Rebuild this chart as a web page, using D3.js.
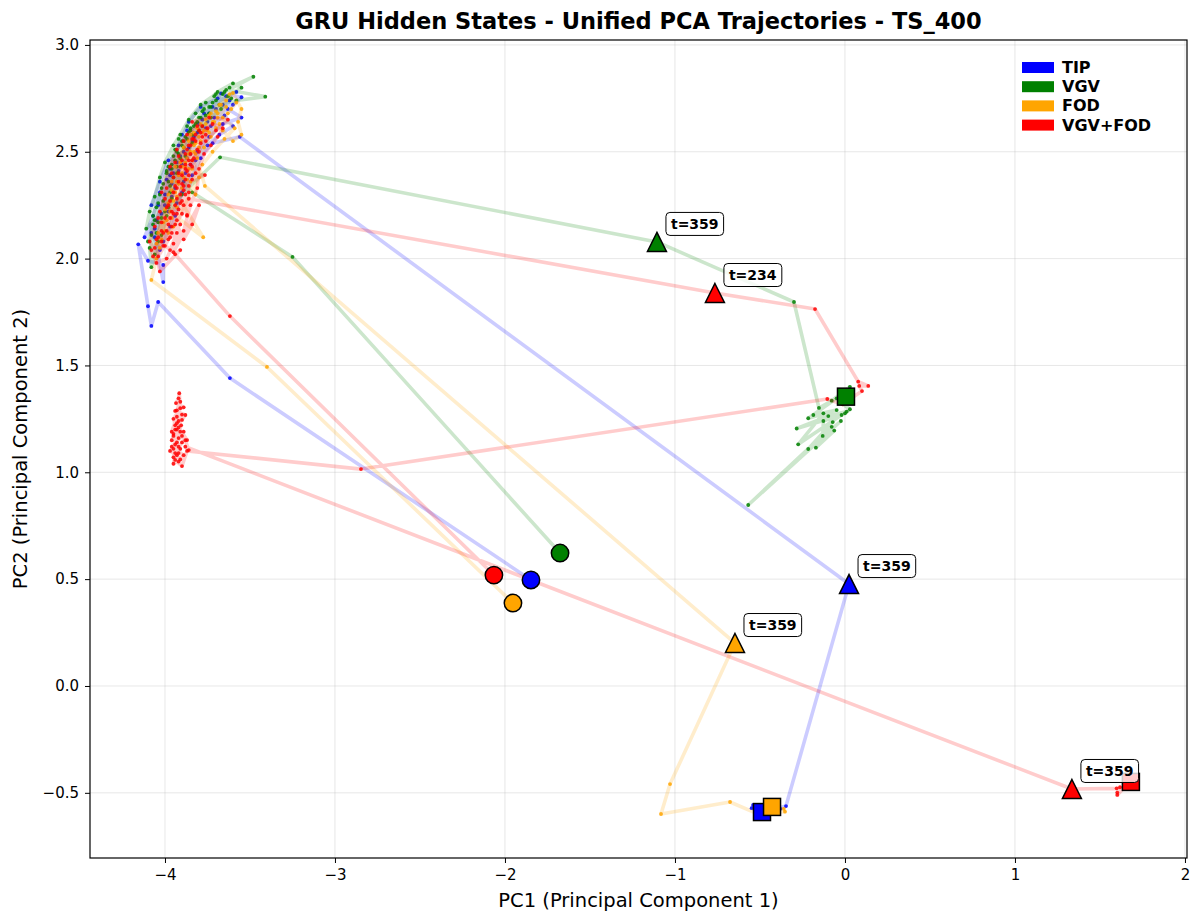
<!DOCTYPE html>
<html>
<head>
<meta charset="utf-8">
<script src="https://cdn.jsdelivr.net/npm/d3@7"></script>
<style>
  body { margin: 0; background: #fff; }
  text { font-family: "DejaVu Sans", sans-serif; }
</style>
</head>
<body>
<svg id="chart" width="1193" height="916"></svg>
<script>
// Conditions and their colours
const seriesNames = ["TIP", "VGV", "FOD", "VGV+FOD"];
const seriesColors = ["#0000ff", "#008000", "#ffa500", "#ff0000"];

// Axis ticks
const xTicks = [-4, -3, -2, -1, 0, 1, 2];
const yTicks = [-0.5, 0.0, 0.5, 1.0, 1.5, 2.0, 2.5, 3.0];

// PCA trajectories, [PC1, PC2] per time step (first point = start, last point = end)
const tipPath = [
  [-1.847, 0.496], [-3.618, 1.441], [-4.04, 1.797], [-4.08, 1.685], [-4.10, 1.777],
  [-4.157, 2.067], [-4.10, 1.99], [-4.01, 1.97], [-4.01, 1.89], [-4.06, 2.10], [-4.02, 2.21],
  [-3.96, 2.29], [-3.99, 2.37], [-3.93, 2.45], [-3.86, 2.52], [-3.90, 2.58], [-3.80, 2.63],
  [-3.74, 2.68], [-3.67, 2.773], [-3.55, 2.755], [-3.60, 2.72], [-3.70, 2.70], [-3.78, 2.65],
  [-3.84, 2.55], [-3.91, 2.48], [-3.95, 2.40], [-4.00, 2.30], [-4.05, 2.18], [-4.08, 2.12],
  [-4.03, 2.04], [-3.97, 2.15], [-3.93, 2.26], [-3.89, 2.36], [-3.85, 2.44], [-3.81, 2.50],
  [-3.87, 2.60], [-3.76, 2.61], [-3.71, 2.66], [-3.63, 2.70], [-3.55, 2.66], [-3.66, 2.63],
  [-3.74, 2.57], [-3.82, 2.46], [-3.88, 2.40], [-3.94, 2.33], [-3.98, 2.22], [-4.04, 2.25],
  [-3.97, 2.42], [-3.92, 2.53], [-3.86, 2.64], [-3.79, 2.71], [-3.69, 2.75], [-3.62, 2.74],
  [-4.12, 2.10], [-4.07, 2.20], [-4.03, 2.31], [-3.97, 2.39], [-3.90, 2.44], [-3.87, 2.47],
  [-3.83, 2.57], [-3.77, 2.68], [-3.72, 2.71], [-3.64, 2.76], [-3.58, 2.78], [-3.66, 2.72],
  [-3.75, 2.64], [-3.81, 2.59], [-3.85, 2.49], [-3.92, 2.41], [-3.96, 2.35], [-4.00, 2.25],
  [-4.06, 2.14], [-4.01, 2.08], [-3.94, 2.20], [-3.90, 2.31], [-3.84, 2.39], [-3.79, 2.47],
  [-3.75, 2.53], [-3.68, 2.58], [-3.60, 2.62], [-3.65, 2.67], [-3.73, 2.62], [-3.89, 2.50],
  [-3.98, 2.46], [-4.03, 2.36], [-4.08, 2.25],
  [-3.72, 2.54], [-3.56, 2.57],
  [0.024, 0.477],
  [-0.347, -0.562], [-0.41, -0.575], [-0.50, -0.585], [-0.549, -0.572], [-0.54, -0.557],
  [-0.45, -0.56], [-0.38, -0.575], [-0.47, -0.60], [-0.43, -0.55], [-0.52, -0.60],
  [-0.46, -0.575], [-0.488, -0.59]
];

const vgvPath = [
  [-1.676, 0.622], [-3.25, 2.008],
  [-3.84, 2.31], [-3.96, 2.42], [-3.89, 2.55], [-3.82, 2.63], [-3.74, 2.71], [-3.65, 2.78],
  [-3.48, 2.851], [-3.62, 2.80], [-3.70, 2.74], [-3.79, 2.66], [-3.86, 2.59], [-3.93, 2.50],
  [-3.99, 2.40], [-4.03, 2.30], [-4.07, 2.20], [-4.05, 2.12], [-4.09, 2.05], [-4.08, 1.96],
  [-4.04, 2.08], [-4.00, 2.22], [-3.97, 2.34], [-3.94, 2.46], [-3.90, 2.53], [-3.85, 2.61],
  [-3.78, 2.69], [-3.71, 2.76], [-3.64, 2.79], [-3.41, 2.758], [-3.58, 2.74], [-3.68, 2.72],
  [-3.76, 2.67], [-3.81, 2.64], [-3.88, 2.57], [-3.92, 2.49], [-3.96, 2.44], [-3.98, 2.36],
  [-4.01, 2.27], [-4.04, 2.17], [-3.98, 2.24], [-3.95, 2.38], [-3.91, 2.47], [-3.87, 2.56],
  [-3.83, 2.62], [-3.77, 2.70], [-3.72, 2.73], [-3.66, 2.77], [-3.74, 2.68], [-3.80, 2.60],
  [-3.84, 2.58], [-3.89, 2.52], [-3.93, 2.43], [-3.97, 2.31], [-4.02, 2.19], [-3.90, 2.30],
  [-4.10, 2.08], [-4.07, 2.16], [-4.05, 2.24], [-4.02, 2.33], [-3.99, 2.41], [-3.95, 2.48],
  [-3.92, 2.56], [-3.87, 2.62], [-3.82, 2.68], [-3.76, 2.73], [-3.69, 2.78], [-3.60, 2.82],
  [-3.55, 2.80], [-3.63, 2.76], [-3.73, 2.71], [-3.80, 2.66], [-3.85, 2.60], [-3.90, 2.55],
  [-3.94, 2.51], [-3.98, 2.43], [-4.01, 2.35], [-4.04, 2.26], [-4.06, 2.18], [-4.08, 2.11],
  [-4.06, 2.02], [-4.02, 2.11], [-3.99, 2.20], [-3.96, 2.28], [-3.93, 2.40], [-3.88, 2.48],
  [-3.84, 2.54], [-3.78, 2.62], [-3.73, 2.66], [-3.67, 2.70], [-3.61, 2.75], [-3.70, 2.77],
  [-3.79, 2.72], [-3.86, 2.65], [-3.91, 2.58], [-3.95, 2.53], [-4.00, 2.45], [-4.03, 2.38],
  [-4.06, 2.29], [-4.09, 2.22], [-4.11, 2.14],
  [-3.676, 2.474],
  [-1.106, 2.078],
  [-0.30, 1.797], [-0.153, 1.301], [-0.078, 1.335], [0.029, 1.40], [-0.049, 1.346],
  [-0.216, 1.253], [-0.049, 1.291], [-0.186, 1.268], [-0.02, 1.268], [-0.284, 1.205],
  [-0.098, 1.263], [0.01, 1.284], [-0.275, 1.131], [-0.127, 1.276], [-0.072, 1.235],
  [-0.216, 1.109], [-0.024, 1.24], [-0.569, 0.847], [-0.078, 1.213], [-0.171, 1.115],
  [-0.063, 1.195], [-0.131, 1.17], [-0.127, 1.24], [0.0, 1.276], [0.029, 1.295],
  [-0.03, 1.33], [0.006, 1.354]
];

const fodPath = [
  [-1.953, 0.388], [-3.40, 1.493],
  [-4.08, 1.90], [-4.05, 2.00], [-4.02, 2.09], [-3.99, 2.18], [-3.95, 2.27], [-3.92, 2.35],
  [-3.88, 2.43], [-3.85, 2.50], [-3.80, 2.57], [-3.76, 2.63], [-3.70, 2.69], [-3.64, 2.74],
  [-3.60, 2.775], [-3.55, 2.70], [-3.57, 2.64], [-3.55, 2.58], [-3.60, 2.55], [-3.66, 2.60],
  [-3.72, 2.64], [-3.78, 2.59], [-3.83, 2.53], [-3.87, 2.47], [-3.90, 2.40], [-3.94, 2.31],
  [-3.775, 2.10], [-3.97, 2.22], [-4.00, 2.13], [-3.96, 2.36], [-3.91, 2.45], [-3.86, 2.55],
  [-3.81, 2.61], [-3.74, 2.67], [-3.67, 2.72], [-3.62, 2.77], [-3.69, 2.66], [-3.75, 2.60],
  [-3.80, 2.52], [-3.84, 2.46], [-3.89, 2.38], [-3.93, 2.29], [-3.98, 2.26], [-3.86, 2.42],
  [-4.03, 2.05], [-3.98, 2.12], [-3.96, 2.19], [-3.93, 2.24], [-3.90, 2.33], [-3.87, 2.37],
  [-3.84, 2.42], [-3.81, 2.47], [-3.77, 2.52], [-3.73, 2.57], [-3.70, 2.61], [-3.66, 2.66],
  [-3.61, 2.70], [-3.58, 2.73], [-3.63, 2.68], [-3.68, 2.63], [-3.74, 2.59], [-3.79, 2.55],
  [-3.83, 2.50], [-3.88, 2.45], [-3.92, 2.39], [-3.96, 2.32], [-4.00, 2.23], [-4.04, 2.12],
  [-3.98, 2.30], [-3.85, 2.36], [-3.78, 2.44], [-3.72, 2.50], [-3.65, 2.56], [-3.59, 2.61],
  [-3.69, 2.68], [-3.76, 2.65], [-3.83, 2.59], [-3.89, 2.52], [-3.94, 2.43], [-3.82, 2.30],
  [-3.85, 2.58], [-3.79, 2.63], [-3.73, 2.68], [-3.68, 2.72], [-3.64, 2.71], [-3.71, 2.64],
  [-3.77, 2.60], [-3.82, 2.54], [-3.86, 2.49], [-3.90, 2.43], [-3.93, 2.36], [-3.97, 2.27],
  [-4.01, 2.17], [-4.05, 2.07], [-3.95, 2.15], [-3.80, 2.38],
  [-3.82, 2.49], [-3.765, 2.34],
  [-0.647, 0.201],
  [-1.029, -0.459], [-1.082, -0.599], [-0.676, -0.543], [-0.52, -0.596], [-0.353, -0.588],
  [-0.40, -0.56], [-0.48, -0.56], [-0.36, -0.575], [-0.45, -0.58], [-0.429, -0.566]
];

const comboPath = [
  [-2.065, 0.519], [-3.618, 1.731],
  [-3.94, 2.02], [-3.91, 2.04], [-4.03, 1.94], [-4.06, 2.05], [-4.02, 2.13], [-3.97, 2.10],
  [-3.93, 2.18], [-3.99, 2.24], [-3.95, 2.31], [-3.90, 2.27], [-3.87, 2.20], [-3.92, 2.36],
  [-3.88, 2.42], [-3.94, 2.45], [-3.85, 2.49], [-3.89, 2.55], [-3.82, 2.58], [-3.78, 2.62],
  [-3.84, 2.64], [-3.74, 2.66], [-3.63, 2.65], [-3.70, 2.60], [-3.76, 2.55], [-3.81, 2.51],
  [-3.86, 2.46], [-3.90, 2.39], [-3.765, 2.391], [-3.93, 2.33], [-3.97, 2.27], [-4.00, 2.19],
  [-4.04, 2.10], [-4.07, 2.01], [-4.01, 2.06], [-3.96, 2.15], [-3.92, 2.23], [-3.88, 2.30],
  [-3.84, 2.37], [-3.91, 2.43], [-3.87, 2.51], [-3.83, 2.56], [-3.79, 2.54], [-3.85, 2.44],
  [-3.89, 2.34], [-3.94, 2.25], [-3.98, 2.16], [-4.02, 2.08], [-3.97, 2.04], [-3.93, 2.12],
  [-4.08, 2.04], [-4.05, 1.98], [-3.99, 2.00], [-3.95, 2.07], [-3.89, 2.13], [-3.85, 2.25],
  [-3.81, 2.33], [-3.80, 2.42], [-3.77, 2.49], [-3.73, 2.53], [-3.69, 2.57], [-3.66, 2.61],
  [-3.72, 2.63], [-3.79, 2.59], [-3.86, 2.53], [-3.92, 2.48], [-3.96, 2.40], [-3.99, 2.33],
  [-4.03, 2.22], [-4.06, 2.15], [-4.09, 2.08], [-4.04, 2.01], [-3.98, 2.09], [-3.94, 2.16],
  [-3.90, 2.21], [-3.86, 2.34], [-3.82, 2.40], [-3.83, 2.47], [-3.90, 2.46], [-3.95, 2.38],
  [-4.00, 2.28], [-4.04, 2.19], [-4.01, 2.12], [-3.96, 2.22], [-3.91, 2.30], [-3.88, 2.37],
  [-3.84, 2.43], [-3.80, 2.50], [-3.76, 2.58], [-3.81, 2.62], [-3.87, 2.58], [-3.93, 2.51],
  [-3.97, 2.43], [-4.02, 2.31], [-3.89, 2.09], [-3.84, 2.16], [-3.80, 2.25],
  [-3.95, 2.03], [-4.00, 2.06], [-3.96, 2.12], [-3.91, 2.16], [-3.95, 2.21], [-3.93, 2.28],
  [-3.89, 2.25], [-3.86, 2.31], [-3.90, 2.35], [-3.87, 2.41], [-3.84, 2.46], [-3.88, 2.49],
  [-3.85, 2.53], [-3.82, 2.55], [-3.78, 2.57], [-3.75, 2.61], [-3.80, 2.60], [-3.84, 2.56],
  [-3.88, 2.44], [-3.92, 2.40], [-3.94, 2.34], [-3.98, 2.25], [-4.02, 2.17], [-4.05, 2.09],
  [-3.99, 2.13], [-3.97, 2.19], [-3.93, 2.21], [-3.91, 2.26], [-3.89, 2.32], [-3.86, 2.39],
  [-3.87, 2.204], [-3.86, 2.28],
  [-0.765, 1.839],
  [-0.176, 1.764], [0.078, 1.424], [0.137, 1.404], [0.084, 1.404], [0.10, 1.38],
  [-0.014, 1.318], [-0.104, 1.343], [-2.847, 1.015],
  [-3.87, 1.10], [-3.90, 1.029], [-3.94, 1.058], [-3.92, 1.12], [-3.95, 1.18], [-3.93, 1.23],
  [-3.90, 1.245], [-3.88, 1.268], [-3.94, 1.287], [-3.89, 1.304], [-3.935, 1.324], [-3.92, 1.346],
  [-3.916, 1.370], [-3.91, 1.30], [-3.95, 1.25], [-3.93, 1.20], [-3.96, 1.15], [-3.92, 1.16],
  [-3.89, 1.19], [-3.94, 1.13], [-3.97, 1.10], [-3.93, 1.08], [-3.91, 1.06], [-3.95, 1.04],
  [-3.94, 1.09], [-3.90, 1.14], [-3.87, 1.151], [-3.92, 1.21], [-3.96, 1.19], [-3.93, 1.26],
  [-3.905, 1.22], [-3.95, 1.11], [-3.92, 1.09],
  [-3.91, 1.11], [-3.93, 1.14], [-3.95, 1.17], [-3.91, 1.19], [-3.94, 1.22], [-3.92, 1.24],
  [-3.90, 1.27], [-3.93, 1.29], [-3.91, 1.33], [-3.95, 1.07], [-3.92, 1.05], [-3.89, 1.08],
  [-3.96, 1.12], [-3.90, 1.17], [-3.94, 1.20], [-3.88, 1.15],
  [-3.86, 1.104], [-3.88, 1.12],
  [1.335, -0.482],
  [1.598, -0.479], [1.653, -0.474], [1.602, -0.499], [1.618, -0.474], [1.602, -0.51],
  [1.66, -0.46], [1.682, -0.449]
];

const paths = [tipPath, vgvPath, fodPath, comboPath];

// Annotated time steps along the trajectories
const eventSeries = ["TIP", "VGV", "FOD", "VGV+FOD", "VGV+FOD"];
const eventSteps  = [359, 359, 359, 234, 359];
const eventPoints = [[0.024, 0.477], [-1.106, 2.078], [-0.647, 0.201], [-0.765, 1.839], [1.335, -0.482]];

// ---------------------------------------------------------------------------
const svg = d3.select("#chart");
const W = 1193, H = 916;
const plot = { left: 90, right: 1187, top: 40, bottom: 858 };

const x = d3.scaleLinear().domain([-4.441, 2.012]).range([plot.left, plot.right]);
const y = d3.scaleLinear().domain([-0.805, 3.023]).range([plot.bottom, plot.top]);

const minus = s => String(s).replace("-", "\u2212");

svg.append("rect").attr("width", W).attr("height", H).attr("fill", "#fff");

// grid
const grid = svg.append("g");
grid.selectAll("line.gx").data(xTicks).join("line")
  .attr("x1", d => x(d)).attr("x2", d => x(d))
  .attr("y1", plot.top).attr("y2", plot.bottom)
  .attr("stroke", "#b0b0b0").attr("stroke-opacity", 0.3).attr("stroke-width", 1);
grid.selectAll("line.gy").data(yTicks).join("line")
  .attr("y1", d => y(d)).attr("y2", d => y(d))
  .attr("x1", plot.left).attr("x2", plot.right)
  .attr("stroke", "#b0b0b0").attr("stroke-opacity", 0.3).attr("stroke-width", 1);

svg.append("clipPath").attr("id", "plotClip").append("rect")
  .attr("x", plot.left).attr("y", plot.top)
  .attr("width", plot.right - plot.left).attr("height", plot.bottom - plot.top);

const g = svg.append("g").attr("clip-path", "url(#plotClip)");

const line = d3.line().x(d => x(d[0])).y(d => y(d[1]));

// trajectories: faint connecting line plus a dot per time step
paths.forEach((p, i) => {
  g.append("path").datum(p)
    .attr("d", line)
    .attr("fill", "none")
    .attr("stroke", seriesColors[i])
    .attr("stroke-opacity", 0.2)
    .attr("stroke-width", 3.6)
    .attr("stroke-linejoin", "round")
    .attr("stroke-linecap", "round");
  g.append("g").selectAll("circle").data(p).join("circle")
    .attr("cx", d => x(d[0])).attr("cy", d => y(d[1]))
    .attr("r", 1.9)
    .attr("fill", seriesColors[i])
    .attr("fill-opacity", 0.85);
});

// start markers (circles)
paths.forEach((p, i) => {
  g.append("circle")
    .attr("cx", x(p[0][0])).attr("cy", y(p[0][1]))
    .attr("r", 8.7)
    .attr("fill", seriesColors[i])
    .attr("stroke", "#000").attr("stroke-width", 1.5);
});

// end markers (squares)
paths.forEach((p, i) => {
  const e = p[p.length - 1];
  g.append("rect")
    .attr("x", x(e[0]) - 8.5).attr("y", y(e[1]) - 8.5)
    .attr("width", 17).attr("height", 17)
    .attr("fill", seriesColors[i])
    .attr("stroke", "#000").attr("stroke-width", 1.5);
});

// event markers (triangles) with step labels
const tri = "M0,-9.5L9.5,9.5L-9.5,9.5Z";
eventPoints.forEach((pt, k) => {
  const ci = seriesNames.indexOf(eventSeries[k]);
  const px = x(pt[0]), py = y(pt[1]);
  g.append("path")
    .attr("d", tri)
    .attr("transform", `translate(${px},${py})`)
    .attr("fill", seriesColors[ci])
    .attr("stroke", "#000").attr("stroke-width", 1.5);
});
eventPoints.forEach((pt, k) => {
  const px = x(pt[0]), py = y(pt[1]);
  const lbl = svg.append("g");
  const t = lbl.append("text")
    .attr("x", px + 14).attr("y", py - 18)
    .attr("dominant-baseline", "central")
    .attr("font-size", 14).attr("font-weight", "bold")
    .attr("fill", "#000")
    .text(`t=${eventSteps[k]}`);
  const bb = t.node().getBBox();
  lbl.insert("rect", "text")
    .attr("x", bb.x - 5).attr("y", py - 18 - 11.5)
    .attr("width", bb.width + 10).attr("height", 23)
    .attr("rx", 4).attr("ry", 4)
    .attr("fill", "#fff").attr("fill-opacity", 0.8)
    .attr("stroke", "#000").attr("stroke-width", 1);
});

// axes
const xAxis = d3.axisBottom(x).tickValues(xTicks).tickFormat(d => minus(d)).tickSizeOuter(0).tickSize(5).tickPadding(6);
const yAxis = d3.axisLeft(y).tickValues(yTicks).tickFormat(d => minus(d3.format(".1f")(d))).tickSizeOuter(0).tickSize(5).tickPadding(6);

const gx = svg.append("g").attr("transform", `translate(0,${plot.bottom})`).call(xAxis);
const gy = svg.append("g").attr("transform", `translate(${plot.left},0)`).call(yAxis);
[gx, gy].forEach(a => {
  a.select(".domain").remove();
  a.selectAll(".tick line").attr("stroke", "#000").attr("stroke-width", 1);
  a.selectAll(".tick text").attr("font-size", 15).attr("fill", "#000")
    .attr("font-family", "DejaVu Sans, sans-serif");
});

// frame
svg.append("rect")
  .attr("x", plot.left).attr("y", plot.top)
  .attr("width", plot.right - plot.left).attr("height", plot.bottom - plot.top)
  .attr("fill", "none").attr("stroke", "#000").attr("stroke-width", 1.2);

// title and axis labels
svg.append("text")
  .attr("x", (plot.left + plot.right) / 2).attr("y", 29)
  .attr("text-anchor", "middle")
  .attr("font-size", 22.5).attr("font-weight", "bold")
  .text("GRU Hidden States - Unified PCA Trajectories - TS_400");

svg.append("text")
  .attr("x", (plot.left + plot.right) / 2).attr("y", 907)
  .attr("text-anchor", "middle")
  .attr("font-size", 19.5)
  .text("PC1 (Principal Component 1)");

svg.append("text")
  .attr("transform", `translate(27,${(plot.top + plot.bottom) / 2}) rotate(-90)`)
  .attr("text-anchor", "middle")
  .attr("font-size", 19.5)
  .text("PC2 (Principal Component 2)");

// legend
const legend = svg.append("g");
seriesNames.forEach((name, i) => {
  const cy = 67.5 + i * 19.2;
  legend.append("rect")
    .attr("x", 1022).attr("y", cy - 5.5)
    .attr("width", 32).attr("height", 11)
    .attr("fill", seriesColors[i]);
  legend.append("text")
    .attr("x", 1062).attr("y", cy)
    .attr("dominant-baseline", "central")
    .attr("font-size", 16).attr("font-weight", "bold")
    .text(name);
});
</script>
</body>
</html>
